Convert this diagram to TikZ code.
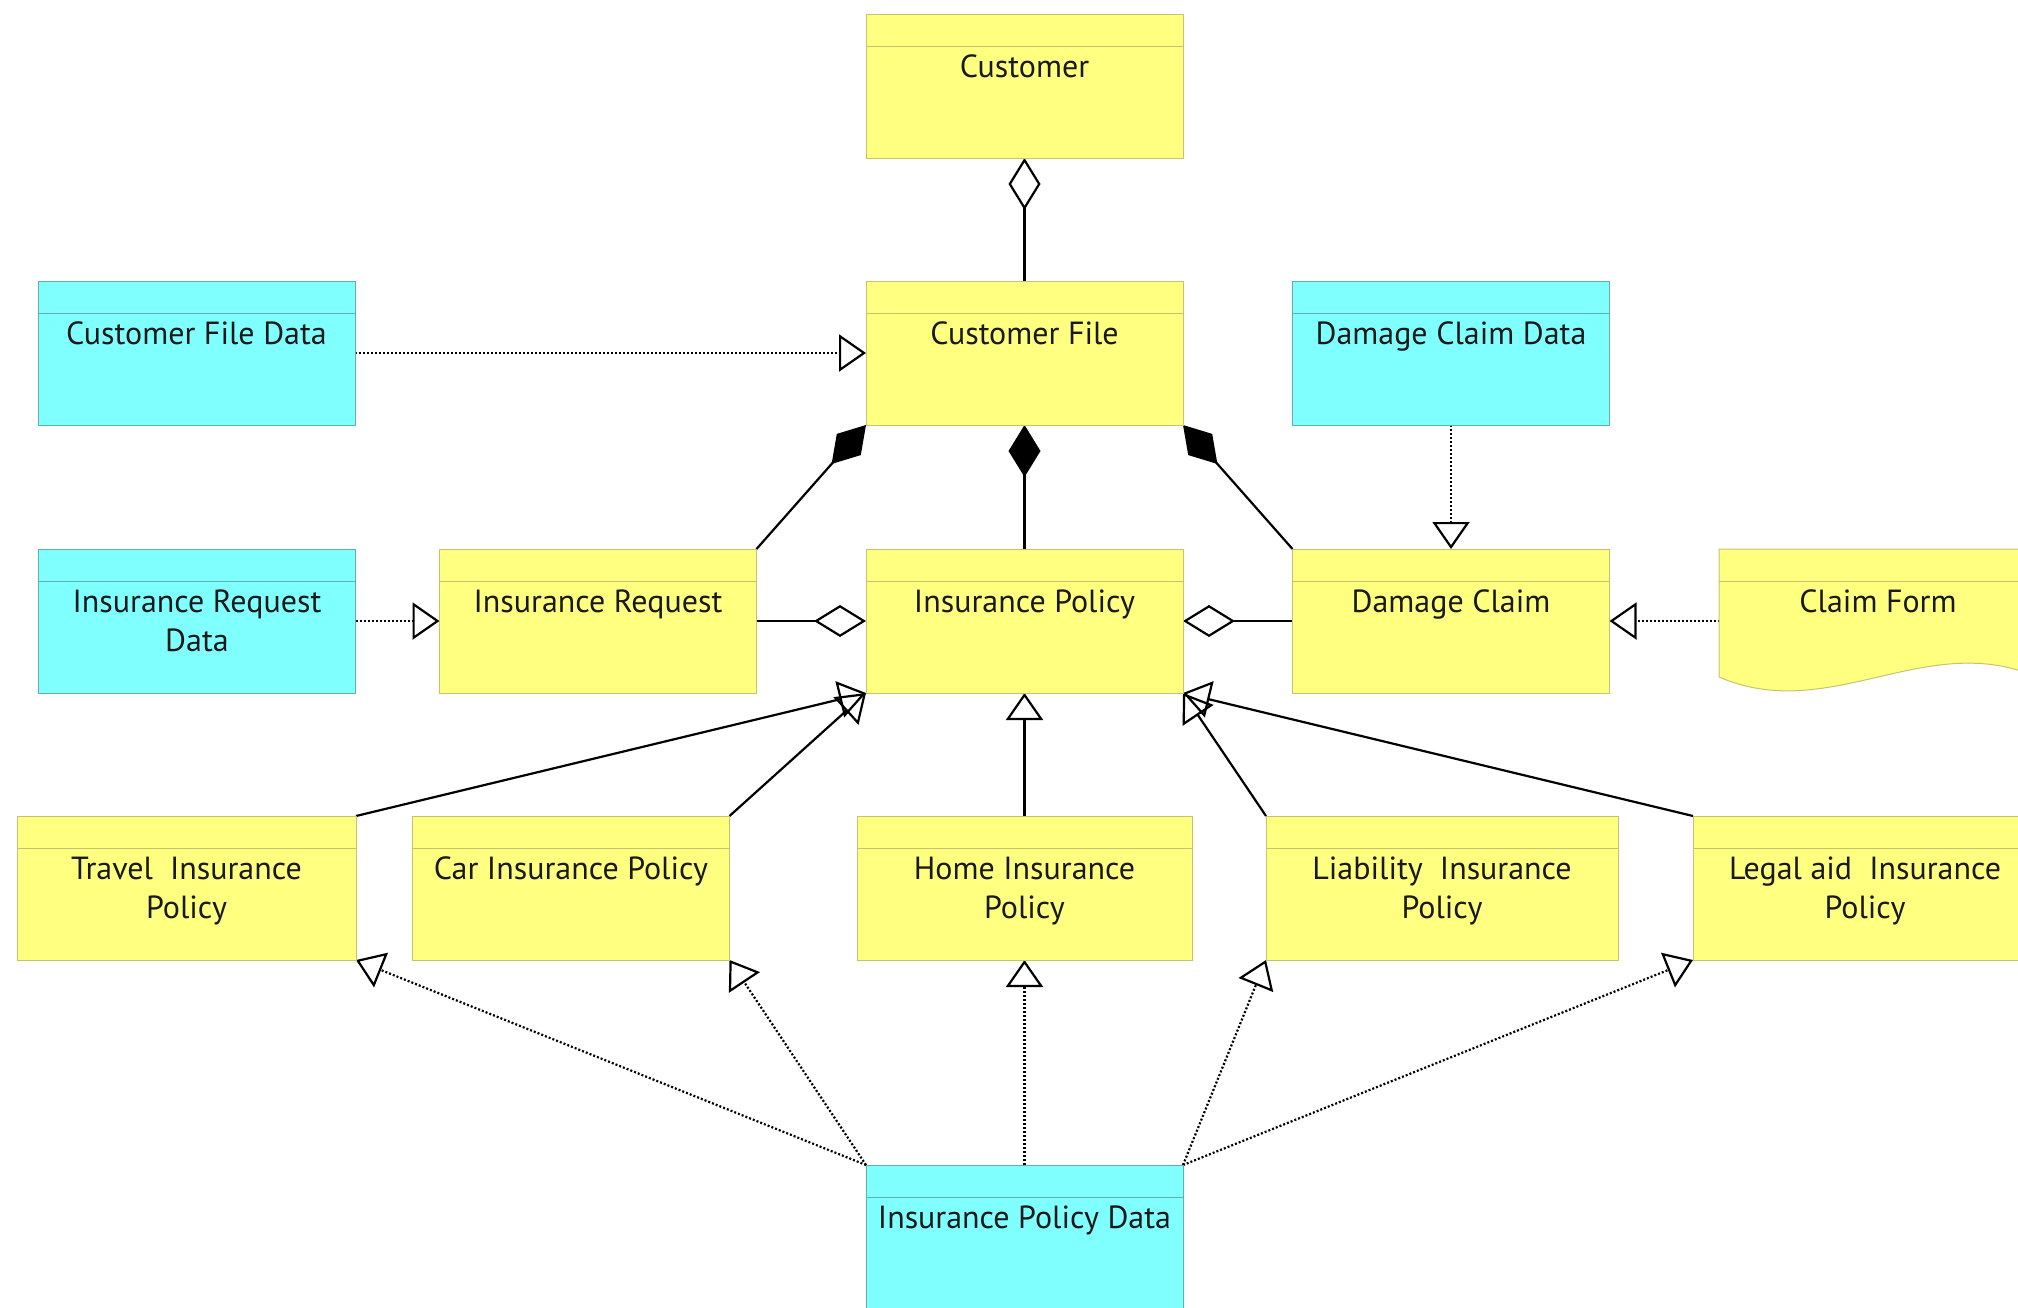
\documentclass[tikz,border=0pt]{standalone}
\usepackage{fontspec}
\setmainfont{PT Sans}
\usetikzlibrary{positioning}
\usetikzlibrary{arrows.meta}
\usetikzlibrary{backgrounds}

\definecolor{clsfill}{RGB}{255,255,128}
\definecolor{clsline}{RGB}{196,196,112}
\definecolor{datafill}{RGB}{128,255,255}
\definecolor{dataline}{RGB}{96,176,176}

\newcommand{\lstrut}{\rule[-3.5pt]{0pt}{17.5pt}}
\newcommand{\twolines}[2]{\lstrut#1\\\lstrut#2}

\tikzset{
  header/.style={path picture={\draw[#1, line width=0.5pt]
      ([yshift=-16pt]path picture bounding box.north west) --
      ([yshift=-16pt]path picture bounding box.north east);}},
  cls/.style={rectangle, draw=clsline, fill=clsfill, line width=0.5pt,
    minimum width=158.5pt, minimum height=72pt, inner sep=0pt, outer sep=0pt,
    align=center, text=black!90, font=\fontsize{16pt}{19.5pt}\selectfont,
    header=clsline},
  data/.style={cls, draw=dataline, fill=datafill, header=dataline},
  conn/.style={line width=1.1pt},
  dep/.style={conn, dash pattern=on 1pt off 1pt},
  opentri/.style={-{Triangle[open, length=13.5pt, width=18.5pt]}},
  aggr/.style={-{Diamond[open, length=26pt, width=16pt]}},
  comp/.style={-{Diamond[length=26pt, width=16pt]}},
}

\begin{document}
\begin{tikzpicture}[x=0.5pt, y=-0.5pt]
  \useasboundingbox (0,0) rectangle (2018,1307);
  \clip (0,0) rectangle (2018,1307);

  % top rows
  \node[cls] (cust) at (1024.5,86) {\twolines{Customer}{}};
  \node[cls] (custfile) at (1024.5,353) {\twolines{Customer File}{}};
  \node[data] (cfdata) at (196.5,353) {\twolines{Customer File Data}{}};
  \node[data] (dcdata) at (1451,353) {\twolines{Damage Claim Data}{}};

  % middle row
  \node[data] (irdata) at (197,621) {\twolines{Insurance Request}{Data}};
  \node[cls] (insreq) at (598,621) {\twolines{Insurance Request}{}};
  \node[cls] (inspol) at (1024.5,621) {\twolines{Insurance Policy}{}};
  \node[cls] (dmgclaim) at (1451,621) {\twolines{Damage Claim}{}};
  \draw[clsline, fill=clsfill, line width=0.5pt] (1719,677) -- (1719,549) -- (2037,549)
    -- (2037,677) .. controls (1926,629) and (1830,725) .. (1719,677);
  \draw[clsline, line width=0.5pt] (1719,581) -- (2037,581);
  \node[cls, draw=none, fill=none, path picture={}] (claimform) at (1878,621) {\twolines{Claim Form}{}};

  % policy kinds
  \node[cls, minimum width=169.5pt] (travel) at (186.5,888) {\twolines{Travel~ Insurance}{Policy}};
  \node[cls] (car) at (571,888) {\twolines{Car Insurance Policy}{}};
  \node[cls, minimum width=167.5pt] (home) at (1024.5,888) {\twolines{Home Insurance}{Policy}};
  \node[cls, minimum width=176pt] (liab) at (1442,888) {\twolines{Liability~ Insurance}{Policy}};
  \node[cls, minimum width=172pt] (legal) at (1865,888) {\twolines{Legal aid~ Insurance}{Policy}};
  \node[data] (ipdata) at (1024.5,1237) {\twolines{Insurance Policy Data}{}};

  \begin{pgfonlayer}{background}
    \draw[conn, aggr] (custfile.north) -- (cust.south);
    \draw[dep, opentri] (cfdata.east) -- (custfile.west);
    \draw[conn, comp] (insreq.north east) -- (custfile.south west);
    \draw[conn, comp] (inspol.north) -- (custfile.south);
    \draw[conn, comp] (dmgclaim.north west) -- (custfile.south east);
    \draw[dep, opentri] (dcdata.south) -- (dmgclaim.north);
    \draw[dep, opentri] (irdata.east) -- (insreq.west);
    \draw[conn, aggr] (insreq.east) -- (inspol.west);
    \draw[conn, aggr] (dmgclaim.west) -- (inspol.east);
    \draw[dep, opentri] (claimform.west) -- (dmgclaim.east);
    % generalisations
    \draw[conn, opentri] (travel.north east) -- (inspol.south west);
    \draw[conn, opentri] (car.north east) -- (inspol.south west);
    \draw[conn, opentri] (home.north) -- (inspol.south);
    \draw[conn, opentri] (liab.north west) -- (inspol.south east);
    \draw[conn, opentri] (legal.north west) -- (inspol.south east);
    % realisations
    \draw[dep, opentri] (ipdata.north west) -- (travel.south east);
    \draw[dep, opentri] (ipdata.north west) -- (car.south east);
    \draw[dep, opentri] (ipdata.north) -- (home.south);
    \draw[dep, opentri] (ipdata.north east) -- (liab.south west);
    \draw[dep, opentri] (ipdata.north east) -- (legal.south west);
  \end{pgfonlayer}
\end{tikzpicture}
\end{document}
